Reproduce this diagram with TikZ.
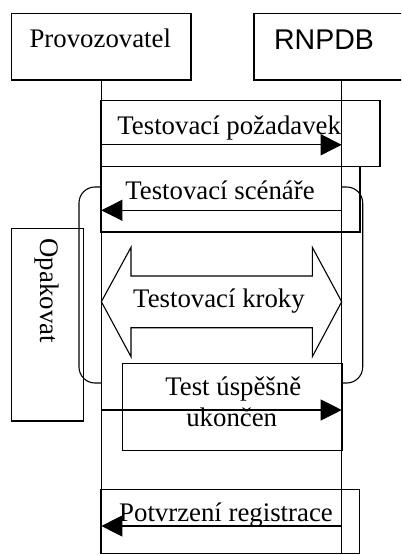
\documentclass[tikz,border=0pt]{standalone}
\usepackage{fontspec}
\setmainfont{Liberation Serif}
\newfontfamily\arialfont{Liberation Sans}
\usetikzlibrary{arrows.meta}
\begin{document}
\begin{tikzpicture}[x=1bp,y=-1bp,line width=1.1bp,
  box/.style={draw,inner sep=0pt,outer sep=0pt},
  lbl/.style={inner sep=0pt,anchor=base,font=\fontsize{26.8bp}{30bp}\selectfont},
  msg/.style={-{Triangle[length=21bp,width=21bp]}},
  loopline/.style={rounded corners=16bp},
]
\clip (0,0) rectangle (401,555);
\fill[white] (0,0) rectangle (401,555);

% participants
\node[box,minimum width=179.3bp,minimum height=66.7bp] (prov) at (101.35,46.65) {};
\node[box,minimum width=175.4bp,minimum height=66.7bp] (rnpdb) at (341.7,46.65) {};
\node[lbl] (provt) at (100.3,47.7) {Provozovatel};
\node[lbl,font=\arialfont\fontsize{28.5bp}{32bp}\selectfont] (rnpdbt) at (324,50) {RNPDB};

% lifeline ends
\coordinate (pend) at (101.35,553.3);
\coordinate (rend) at (341.7,553.3);
\draw (prov.south) -- (pend);
\draw (rnpdb.south) -- (rend);

% message boxes
\node[box,minimum width=279bp,minimum height=66bp] (box1) at (240.5,133.7) {};
\node[box,minimum width=259bp,minimum height=65.3bp] (box2) at (230.5,199.35) {};
\node[box,minimum width=219.6bp,minimum height=87.4bp] (box3) at (232.5,407) {};
\node[box,minimum width=258.5bp,minimum height=64bp] (box4) at (230.25,521.3) {};

% repeat box
\node[box,minimum width=71.6bp,minimum height=192.7bp] (opbox) at (47.5,324.65) {};
\node[lbl,rotate=-90,anchor=base west] (opt) at (40,238) {Opakovat};

% loop brackets
\coordinate (lt) at (101.35,187);
\coordinate (lb) at (101.35,383);
\coordinate (rt) at (341.7,187);
\coordinate (rb) at (341.7,383);
\draw[loopline] (lt) -- (79,187) -- (79,383) -- (lb);
\draw[loopline] (rt) -- (362.7,187) -- (362.7,383) -- (rb);

% messages
\coordinate (p1) at (101.35,144.8);
\coordinate (r1) at (341.7,144.8);
\coordinate (p2) at (101.35,210.3);
\coordinate (r2) at (341.7,210.3);
\coordinate (p3) at (101.35,410);
\coordinate (r3) at (341.7,410);
\coordinate (p4) at (101.35,526);
\coordinate (r4) at (341.7,526);
\draw[msg] (p1) -- (r1);
\draw[msg] (r2) -- (p2);
\draw[msg] (p3) -- (r3);
\draw[msg] (r4) -- (p4);

% double arrow (test steps)
\draw (101.35,301.7) -- (131,247.3) -- (131,276) -- (312.3,276) -- (312.3,247.3)
  -- (341.7,301.7) -- (312.3,356.7) -- (312.3,327.7) -- (131,327.7) -- (131,356.7) -- cycle;

% labels
\node[lbl] (t1) at (229.2,135) {Testovací požadavek};
\node[lbl] (t2) at (220,200) {Testovací scénáře};
\node[lbl] (t3) at (219,307.3) {Testovací kroky};
\node[lbl] (t4a) at (233.3,395) {Test úspěšně};
\node[lbl] (t4b) at (231.7,426.7) {ukončen};
\node[lbl] (t5) at (226,521.7) {Potvrzení registrace};
\end{tikzpicture}
\end{document}
